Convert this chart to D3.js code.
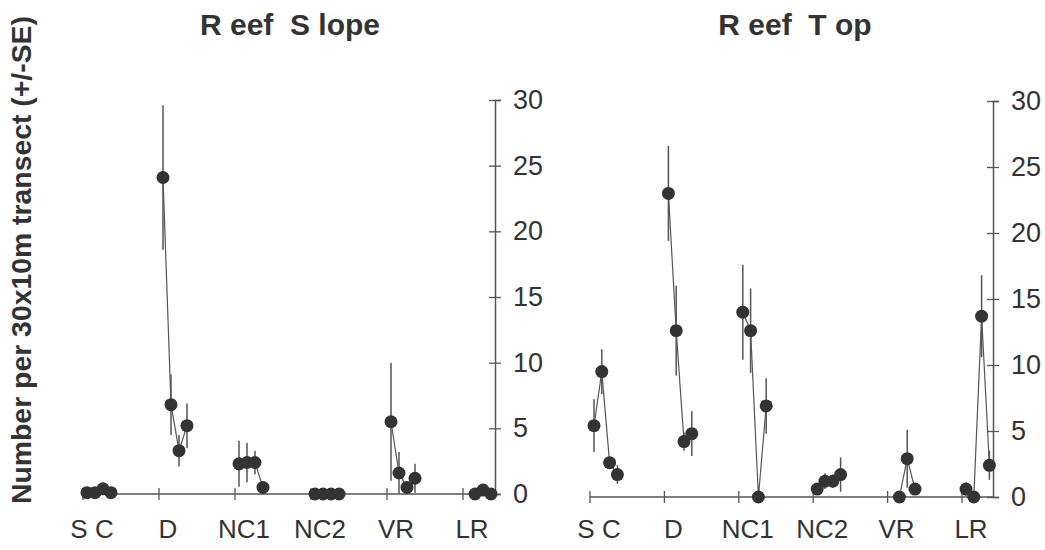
<!DOCTYPE html>
<html>
<head>
<meta charset="utf-8">
<script src="https://cdn.jsdelivr.net/npm/d3@7"></script>
<style>
  body { margin: 0; background: #fff; }
  svg { display: block; font-family: 'Liberation Sans', Arial, sans-serif; }
</style>
</head>
<body>
<div id="chart"></div>
<script>
// Reef slope / reef top counts per site, four surveys each (null = not surveyed)

const sites = ['S C', 'D', 'NC1', 'NC2', 'VR', 'LR'];
const yTicks = [0, 5, 10, 15, 20, 25, 30];

const slopeMean = [
    [0.1, 0.1, 0.4, 0.1],
    [24.1, 6.8, 3.3, 5.2],
    [2.3, 2.4, 2.4, 0.5],
    [0, 0, 0, 0],
    [5.5, 1.6, 0.5, 1.2],
    [null, 0, 0.3, 0]
];
const slopeSE = [
    [0, 0, 0, 0],
    [5.5, 2.3, 1.2, 1.7],
    [1.75, 1.5, 0.9, 0],
    [0, 0, 0, 0],
    [4.5, 1.6, 0, 1.1],
    [null, 0, 0, 0]
];

const topMean = [
    [5.4, 9.5, 2.6, 1.7],
    [23.0, 12.6, 4.2, 4.8],
    [14.0, 12.6, 0, 6.9],
    [0.6, 1.2, 1.2, 1.7],
    [null, 0, 2.9, 0.6],
    [0.6, 0, 13.7, 2.4]
];
const topSE = [
    [2.0, 1.7, 0.4, 0.7],
    [3.6, 3.4, 0.7, 1.7],
    [3.6, 3.2, 0, 2.1],
    [0, 0.6, 0.5, 1.3],
    [null, 0, 2.2, 0],
    [0.5, 0, 3.1, 1.1]
];

const ink = '#333';
const W = 1045, H = 550;

const svg = d3.select('#chart').append('svg').attr('width', W).attr('height', H);
svg.append('rect').attr('width', W).attr('height', H).attr('fill', '#fff');

svg.append('text')
    .attr('transform', 'translate(31, 260) rotate(-90)')
    .attr('text-anchor', 'middle')
    .attr('textLength', 488)
    .attr('lengthAdjust', 'spacingAndGlyphs')
    .style('font-size', '27px')
    .style('font-weight', 'bold')
    .style('fill', ink)
    .text('Number per 30x10m transect (+/-SE)');

function drawPanel(p, means, ses) {
    const g = svg.append('g');
    const y = d3.scaleLinear().domain([0, 30]).range([p.y0, p.y30]);
    const x = d3.scaleBand().domain(sites).range([p.left, p.left + p.step * sites.length]).padding(0);
    const inner = d3.scalePoint().domain([0, 1, 2, 3]).range([4, 4 + p.gap * 3]);

    g.append('text')
        .attr('x', p.titleX).attr('y', 35)
        .attr('text-anchor', 'middle')
        .style('font-size', '30px').style('font-weight', 'bold').style('fill', ink)
        .style('white-space', 'pre')
        .text(p.title);

    // x axis: ticks at the start of each site group
    g.append('line')
        .attr('x1', p.left).attr('x2', p.axisX)
        .attr('y1', y(0)).attr('y2', y(0))
        .attr('stroke', '#555').attr('stroke-width', 1.5);
    g.selectAll('.xtick').data(sites).enter().append('line')
        .attr('x1', d => x(d)).attr('x2', d => x(d))
        .attr('y1', y(0) - 6).attr('y2', y(0) + 6)
        .attr('stroke', '#555').attr('stroke-width', 1.3);
    g.selectAll('.xlab').data(sites).enter().append('text')
        .attr('x', d => x(d) + 9).attr('y', 538)
        .attr('text-anchor', 'middle')
        .style('font-size', '26px').style('fill', ink)
        .style('white-space', 'pre')
        .text(d => d);

    // y axis on the right with cross ticks
    const yAxisG = g.append('g').attr('transform', `translate(${p.axisX},0)`)
        .call(d3.axisRight(y).tickValues(yTicks).tickSize(6).tickPadding(12));
    yAxisG.select('.domain').attr('stroke', '#555').attr('stroke-width', 1.5);
    yAxisG.selectAll('.tick line').attr('x1', -6).attr('x2', 6).attr('stroke', '#555').attr('stroke-width', 1.3);
    yAxisG.selectAll('.tick text')
        .style('font-size', '27px')
        .style('font-family', "'Liberation Sans', Arial, sans-serif")
        .attr('fill', ink);

    const pts = [];
    sites.forEach((s, i) => {
        const group = [];
        means[i].forEach((m, j) => {
            if (m === null) return;
            group.push({ site: s, k: j, mean: m, se: ses[i][j] });
        });
        pts.push(group);
    });

    const px = d => x(d.site) + inner(d.k);
    const line = d3.line().x(px).y(d => y(d.mean));

    g.selectAll('.err').data(pts.flat().filter(d => d.se > 0)).enter().append('line')
        .attr('x1', px).attr('x2', px)
        .attr('y1', d => y(d.mean + d.se)).attr('y2', d => y(Math.max(0, d.mean - d.se)))
        .attr('stroke', '#555').attr('stroke-width', 1.5);

    g.selectAll('.grp').data(pts).enter().append('path')
        .attr('d', line)
        .attr('fill', 'none').attr('stroke', '#555').attr('stroke-width', 1.2);

    g.selectAll('.dot').data(pts.flat()).enter().append('circle')
        .attr('cx', px).attr('cy', d => y(d.mean))
        .attr('r', 6.5)
        .attr('fill', ink);
}

drawPanel({ title: 'R eef  S lope', titleX: 290, left: 83, step: 76, gap: 8, axisX: 495, y0: 494, y30: 100 }, slopeMean, slopeSE);
drawPanel({ title: 'R eef  T op', titleX: 795, left: 590, step: 74.4, gap: 7.8, axisX: 993, y0: 497, y30: 101 }, topMean, topSE);
</script>
</body>
</html>
